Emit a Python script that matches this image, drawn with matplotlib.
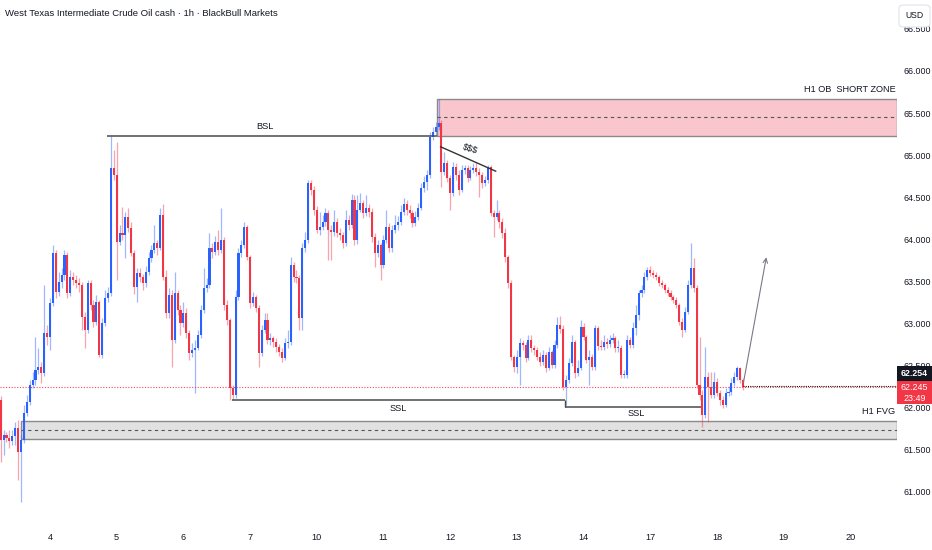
import matplotlib
matplotlib.use("Agg")
import matplotlib.pyplot as plt
from matplotlib.patches import Rectangle, FancyBboxPatch
import numpy as np

plt.rcParams['font.family'] = ['Liberation Sans Narrow', 'Liberation Sans', 'DejaVu Sans']

# ---- data (WTI cash, 1h bars) ----
first_open = 62.09
closes = [61.62, 61.68, 61.64, 61.61, 61.67, 61.76, 61.48, 61.62, 61.94, 62.07,
          62.27, 62.33, 62.45, 62.48, 62.41, 62.89, 62.84, 63.24, 63.84, 63.38,
          63.49, 63.58, 63.81, 63.36, 63.55, 63.52, 63.48, 63.46, 63.08, 62.92,
          63.48, 63.22, 63.02, 63.26, 62.63, 63.01, 63.30, 63.36, 64.85, 64.76,
          63.97, 64.08, 64.05, 64.27, 64.14, 63.84, 63.43, 63.60, 63.55, 63.48,
          63.61, 63.78, 63.87, 63.96, 63.90, 64.29, 63.55, 63.13, 63.34, 62.81,
          63.36, 63.16, 63.01, 63.13, 62.89, 62.65, 62.69, 62.71, 62.86, 63.16,
          63.42, 63.46, 63.90, 63.85, 63.97, 63.87, 63.99, 63.22, 63.04, 62.24,
          62.15, 63.32, 63.84, 63.93, 64.15, 63.79, 63.24, 63.32, 63.19, 62.65,
          62.92, 63.04, 62.81, 62.83, 62.78, 62.72, 62.66, 62.59, 62.77, 62.78,
          63.70, 63.55, 63.54, 63.07, 63.90, 63.99, 64.67, 64.59, 64.35, 64.11,
          64.15, 64.21, 64.31, 64.11, 64.09, 64.21, 64.08, 64.05, 63.96, 64.23,
          64.17, 64.47, 63.99, 64.35, 64.43, 64.31, 64.37, 64.33, 64.03, 63.84,
          63.93, 63.70, 63.99, 64.15, 63.90, 64.11, 64.17, 64.21, 64.33, 64.42,
          64.35, 64.31, 64.20, 64.27, 64.37, 64.61, 64.68, 64.76, 65.22, 65.28,
          65.33, 65.38, 64.80, 64.91, 64.73, 64.55, 64.86, 64.76, 64.59, 64.82,
          64.85, 64.73, 64.82, 64.85, 64.80, 64.76, 64.67, 64.71, 64.86, 64.31,
          64.27, 64.31, 64.21, 64.08, 63.79, 63.48, 62.60, 62.48, 62.60, 62.77,
          62.75, 62.59, 62.81, 62.71, 62.69, 62.60, 62.54, 62.63, 62.47, 62.66,
          62.51, 62.75, 62.98, 62.94, 62.25, 62.33, 62.53, 62.78, 62.41, 62.47,
          62.96, 62.84, 62.57, 62.60, 62.48, 62.95, 62.73, 62.72, 62.78, 62.76,
          62.81, 62.83, 62.71, 62.71, 62.39, 62.39, 62.81, 62.75, 62.95, 63.10,
          63.36, 63.40, 63.55, 63.64, 63.60, 63.58, 63.55, 63.48, 63.46, 63.40,
          63.36, 63.32, 63.28, 63.22, 63.02, 62.92, 63.14, 63.46, 63.66, 63.42,
          62.27, 62.15, 61.92, 62.37, 62.25, 62.15, 62.31, 62.18, 62.09, 62.03,
          62.18, 62.19, 62.29, 62.37, 62.47, 62.33, 62.245]
highs = [62.14, 61.74, 61.71, 61.74, 61.74, 61.83, 61.86, 61.68, 62.03, 62.15,
         62.33, 62.42, 62.84, 62.71, 62.54, 63.46, 62.98, 63.30, 63.93, 63.87,
         63.61, 63.66, 63.87, 63.85, 63.64, 63.61, 63.58, 63.54, 63.49, 63.14,
         63.52, 63.52, 63.28, 63.34, 63.28, 63.07, 63.40, 63.43, 65.23, 65.06,
         65.16, 64.17, 64.39, 64.33, 64.37, 64.21, 63.87, 63.66, 63.66, 63.59,
         63.68, 63.85, 63.93, 64.17, 63.99, 64.37, 64.42, 63.64, 63.42, 63.40,
         63.61, 63.40, 63.22, 63.26, 63.19, 62.92, 62.77, 62.81, 62.92, 63.22,
         63.66, 63.54, 64.08, 63.96, 64.04, 64.11, 64.37, 64.03, 63.28, 63.07,
         62.27, 63.40, 63.90, 63.99, 64.21, 64.17, 63.81, 63.38, 63.34, 63.22,
         62.98, 63.13, 63.13, 62.89, 62.85, 62.83, 62.76, 62.71, 62.83, 62.92,
         63.79, 63.73, 63.64, 63.58, 63.96, 64.09, 64.71, 64.71, 64.63, 64.40,
         64.33, 64.29, 64.37, 64.35, 64.17, 64.35, 64.25, 64.14, 64.09, 64.35,
         64.29, 64.54, 64.53, 64.53, 64.55, 64.47, 64.53, 64.42, 64.37, 64.08,
         63.99, 63.96, 64.05, 64.35, 64.20, 64.17, 64.29, 64.28, 64.41, 64.49,
         64.47, 64.41, 64.35, 64.34, 64.43, 64.67, 64.75, 64.82, 65.28, 65.33,
         65.39, 65.67, 65.42, 65.04, 64.94, 64.76, 64.92, 64.91, 64.82, 64.88,
         64.88, 64.88, 64.87, 64.91, 64.92, 64.85, 64.80, 64.75, 64.88, 64.88,
         64.35, 64.47, 64.35, 64.25, 64.14, 63.81, 63.52, 62.63, 62.69, 62.83,
         62.81, 62.78, 62.86, 62.86, 62.75, 62.72, 62.66, 62.69, 62.66, 62.72,
         62.69, 62.81, 63.08, 63.09, 62.98, 62.39, 62.59, 62.86, 62.81, 62.57,
         63.04, 63.01, 62.86, 62.69, 62.64, 62.98, 62.97, 62.81, 62.86, 62.83,
         62.86, 62.89, 62.85, 62.81, 62.75, 62.45, 62.86, 62.84, 63.02, 63.22,
         63.40, 63.46, 63.61, 63.67, 63.68, 63.64, 63.61, 63.58, 63.52, 63.48,
         63.43, 63.40, 63.34, 63.32, 63.24, 63.07, 63.20, 63.52, 63.96, 63.78,
         63.46, 62.84, 62.21, 62.72, 62.42, 62.42, 62.42, 62.35, 62.21, 62.14,
         62.24, 62.26, 62.35, 62.42, 62.50, 62.48, 62.35]
lows = [61.36, 61.44, 61.59, 61.52, 61.56, 61.56, 61.14, 60.88, 61.58, 61.90,
        62.03, 62.24, 62.27, 62.40, 62.30, 62.38, 62.75, 62.69, 63.21, 63.30,
        63.33, 63.42, 63.52, 63.30, 63.33, 63.46, 63.42, 63.38, 62.92, 62.71,
        62.89, 63.16, 62.96, 62.98, 62.60, 62.59, 62.97, 63.26, 63.33, 64.71,
        63.52, 63.93, 63.99, 63.78, 64.09, 63.80, 63.35, 63.26, 63.49, 63.40,
        63.43, 63.58, 63.73, 63.84, 63.81, 63.87, 63.52, 63.07, 63.07, 62.48,
        62.77, 63.10, 62.86, 62.96, 62.83, 62.57, 62.60, 62.18, 62.69, 62.83,
        63.13, 63.38, 63.42, 63.78, 63.81, 63.81, 63.84, 63.16, 62.98, 62.09,
        62.09, 62.12, 63.28, 63.79, 63.90, 63.76, 63.19, 63.21, 63.14, 62.48,
        62.61, 62.89, 62.76, 62.75, 62.72, 62.66, 62.61, 62.54, 62.57, 62.71,
        62.75, 63.49, 63.48, 62.92, 62.92, 63.85, 63.96, 64.53, 64.29, 64.08,
        64.05, 64.11, 64.16, 63.76, 63.76, 64.04, 64.03, 63.99, 63.90, 63.92,
        64.11, 64.14, 63.93, 63.95, 64.33, 64.25, 64.28, 64.27, 63.97, 63.67,
        63.79, 63.52, 63.66, 63.96, 63.85, 63.85, 64.08, 64.11, 64.17, 64.29,
        64.29, 64.25, 64.15, 64.16, 64.23, 64.35, 64.56, 64.59, 64.73, 65.18,
        65.24, 65.30, 64.62, 64.76, 64.68, 64.35, 64.52, 64.71, 64.53, 64.56,
        64.78, 64.68, 64.71, 64.79, 64.75, 64.50, 64.61, 64.63, 64.67, 64.28,
        64.03, 64.23, 64.14, 64.02, 63.73, 63.42, 62.57, 62.42, 62.41, 62.27,
        62.69, 62.54, 62.57, 62.66, 62.63, 62.57, 62.50, 62.51, 62.42, 62.45,
        62.47, 62.47, 62.71, 62.89, 62.21, 62.03, 62.30, 62.50, 62.35, 62.38,
        62.45, 62.81, 62.53, 62.27, 62.45, 62.45, 62.69, 62.69, 62.69, 62.71,
        62.72, 62.77, 62.66, 62.66, 62.35, 62.35, 62.35, 62.71, 62.71, 62.86,
        63.04, 63.32, 63.36, 63.52, 63.57, 63.54, 63.52, 63.45, 63.42, 63.36,
        63.33, 63.28, 63.24, 63.19, 62.98, 62.84, 62.90, 63.11, 63.42, 63.38,
        62.24, 62.09, 61.77, 61.88, 61.83, 62.12, 62.12, 62.14, 62.03, 62.00,
        62.01, 62.14, 62.15, 62.26, 62.33, 62.30, 62.21]

day_labels = ['4', '5', '6', '7', '10', '11', '12', '13', '14', '17', '18', '19', '20']
bars_per_day = 23
first_day_bar = 17          # bar index where day "4" starts

# drawn levels (price)
bsl_level = 65.23
ssl_levels = [62.09, 62.01]
ob_zone = (65.23, 65.67)    # H1 OB short zone
fvg_zone = (61.63, 61.84)   # H1 FVG
last_price = 62.245
bid_price = 62.254
yticks = np.arange(61.0, 66.51, 0.5)

W, H = 932, 550
UP, DOWN = '#2962FF', '#F23645'
TXT = '#131722'
LINE = '#4a4a4a'

fig = plt.figure(figsize=(W / 100, H / 100), dpi=100)
fig.patch.set_facecolor('white')
ax = fig.add_axes([0, 25 / H, 897 / W, 525 / H])
ax.set_xlim(-0.24, 309.1)
ax.set_ylim(60.608, 66.843)

n = len(closes)
idx = np.arange(n)
c = np.array(closes)
o = np.concatenate([[first_open], c[:-1]])
hi = np.maximum(np.array(highs), np.maximum(o, c))
lo = np.minimum(np.array(lows), np.minimum(o, c))
up = c >= o
cols = np.where(up, UP, DOWN)

ax.vlines(idx, lo, hi, colors=cols, linewidth=0.9, alpha=0.45, zorder=3)
body = np.maximum(np.abs(c - o), 0.012)
ax.bar(idx, body, bottom=np.minimum(o, c), width=0.72, color=cols, linewidth=0, zorder=4)

right = ax.get_xlim()[1]

# zones
x0 = 150.4
ax.add_patch(Rectangle((x0, ob_zone[0]), right - x0, ob_zone[1] - ob_zone[0],
                       facecolor='#F8C6CC', edgecolor='#8a8a8a', linewidth=1.0, zorder=1))
ax.hlines(sum(ob_zone) / 2, x0, right, colors='#555555', linestyles=(0, (3, 3)), linewidth=0.8, zorder=2)
x1 = 6.9
ax.add_patch(Rectangle((x1, fvg_zone[0]), right - x1, fvg_zone[1] - fvg_zone[0],
                       facecolor='#E1E1E1', edgecolor='#8a8a8a', linewidth=1.0, zorder=1))
ax.hlines(sum(fvg_zone) / 2, x1, right, colors='#555555', linestyles=(0, (3, 3)), linewidth=0.8, zorder=2)

# liquidity lines
ax.hlines(bsl_level, 36.5, 150.4, colors=LINE, linewidth=1.1, zorder=5)
ax.hlines(ssl_levels[0], 79.8, 194.6, colors=LINE, linewidth=1.1, zorder=5)
ax.vlines(194.6, ssl_levels[1], ssl_levels[0], colors=LINE, linewidth=1.0, zorder=5)
ax.hlines(ssl_levels[1], 194.6, 241.5, colors=LINE, linewidth=1.1, zorder=5)
ax.plot([151.7, 170.7], [65.10, 64.81], color='#333333', linewidth=1.0, zorder=5)

ax.text(91.1, 65.335, 'BSL', ha='center', va='center', fontsize=6.6, color=TXT)
ax.text(137, 61.99, 'SSL', ha='center', va='center', fontsize=6.6, color=TXT)
ax.text(219, 61.93, 'SSL', ha='center', va='center', fontsize=6.6, color=TXT)
ax.text(161.8, 65.08, '$$$', ha='center', va='center', fontsize=6.6, color=TXT, rotation=-17)
ax.text(right - 0.5, 65.786, 'H1 OB  SHORT ZONE', ha='right', va='center', fontsize=6.6, color=TXT)
ax.text(right - 0.5, 61.96, 'H1 FVG', ha='right', va='center', fontsize=6.6, color=TXT)

# price lines
ax.axhline(last_price, color=DOWN, linestyle=(0, (1, 1.5)), linewidth=0.8, alpha=0.9, zorder=2)
ax.hlines(bid_price, n - 1, right, colors=TXT, linestyles=(0, (1, 1)), linewidth=0.8, zorder=6)

# projection arrow
ax.annotate('', xy=(264.2, 63.82), xytext=(256, 62.27),
            arrowprops=dict(arrowstyle='->', color='#787B86', lw=0.8, mutation_scale=8), zorder=7)

# axes
for s in ax.spines.values():
    s.set_visible(False)
day_bars = [first_day_bar + bars_per_day * k for k in range(len(day_labels))]
ax.set_xticks(day_bars)
ax.set_xticklabels(day_labels)
ax.yaxis.tick_right()
ax.set_yticks(yticks)
ax.set_yticklabels(['%.3f' % v for v in yticks])
ax.tick_params(axis='x', length=0, pad=6, labelsize=6.6, colors=TXT)
ax.tick_params(axis='y', length=0, pad=4.5, labelsize=6.4, colors=TXT)


def fx(x):
    return x / W


def fy(y):
    return 1 - y / H


fig.text(fx(5), fy(13), 'West Texas Intermediate Crude Oil cash \u00b7 1h \u00b7 BlackBull Markets',
         ha='left', va='center', fontsize=6.8, color=TXT)

# right-axis tags (they partly cover the 62.500 / 62.000 labels, as in the original)
fig.add_artist(Rectangle((fx(897), fy(381)), 35 / W, 15 / H, facecolor=TXT, edgecolor='none',
                         transform=fig.transFigure))
fig.text(fx(914.5), fy(373.5), '%.3f' % bid_price, ha='center', va='center', fontsize=6.4,
         color='white', fontweight='bold')
fig.add_artist(Rectangle((fx(897), fy(404)), 35 / W, 23 / H, facecolor=DOWN, edgecolor='none',
                         transform=fig.transFigure))
fig.text(fx(914.5), fy(387.5), '%.3f' % last_price, ha='center', va='center', fontsize=6.4, color='white')
fig.text(fx(914.5), fy(398.5), '23:49', ha='center', va='center', fontsize=6.4, color='white')

fig.add_artist(FancyBboxPatch((fx(899), fy(27)), 31 / W, 22 / H,
                              boxstyle='round,pad=0,rounding_size=0.006',
                              facecolor='white', edgecolor='#E0E3EB', linewidth=0.8,
                              transform=fig.transFigure))
fig.text(fx(914.5), fy(15.5), 'USD', ha='center', va='center', fontsize=6.2, color=TXT)

fig.savefig('out.png', dpi=100, facecolor='white')
